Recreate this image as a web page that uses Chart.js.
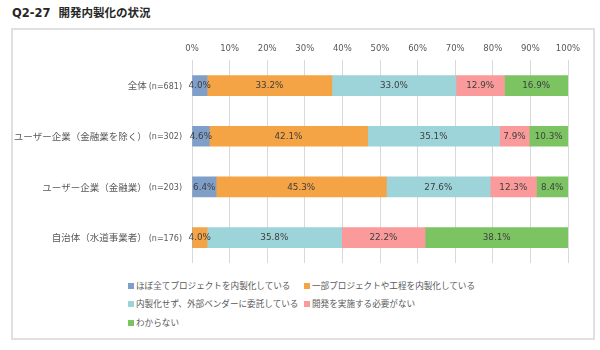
<!DOCTYPE html>
<html>
<head>
<meta charset="utf-8">
<script src="https://cdn.jsdelivr.net/npm/chart.js@4"></script>
<style>
    body { margin: 0; background: #fff; font-family: "DejaVu Sans", "Noto Sans CJK JP", sans-serif; }
    #page { position: relative; width: 600px; height: 350px; overflow: hidden; }
    #title { position: absolute; left: 12px; top: 4px; font-size: 11.5px; font-weight: bold; color: #262626; }
    #frame { position: absolute; left: 11px; top: 28px; width: 580px; height: 308px; border: 2px solid #e0e0e0; }
    #chart-wrap { position: absolute; left: 0; top: 0; width: 600px; height: 270px; }
    #legend { position: absolute; left: 0; top: 0; font-size: 8.6px; color: #595959; font-family: "Noto Sans CJK JP", sans-serif; }
    .lg-item { position: absolute; white-space: nowrap; line-height: 14px; }
    .lg-box { display: inline-block; width: 6px; height: 6px; margin-right: 2px; vertical-align: 0px; }
</style>
</head>
<body>
<div id="page">
    <div id="title">Q2-27&nbsp; 開発内製化の状況</div>
    <div id="frame"></div>
    <div id="chart-wrap"><canvas id="c"></canvas></div>
    <div id="legend"></div>
</div>
<script>
    const categories = ['全体', 'ユーザー企業（金融業を除く）', 'ユーザー企業（金融業）', '自治体（水道事業者）'];
    const sampleSizes = ['(n=681)', '(n=302)', '(n=203)', '(n=176)'];
    const seriesNames = [
        'ほぼ全てプロジェクトを内製化している',
        '一部プロジェクトや工程を内製化している',
        '内製化せず、外部ベンダーに委託している',
        '開発を実施する必要がない',
        'わからない'
    ];
    const allInHouse = [4.0, 4.6, 6.4, 0];
    const partInHouse = [33.2, 42.1, 45.3, 4.0];
    const outsourced = [33.0, 35.1, 27.6, 35.8];
    const noNeed = [12.9, 7.9, 12.3, 22.2];
    const unknown = [16.9, 10.3, 8.4, 38.1];
    const xTicks = [0, 10, 20, 30, 40, 50, 60, 70, 80, 90, 100];

    const colors = ['#7f9fc9', '#f4a345', '#9dd4d9', '#fa9a9b', '#7cc462'];
    const seriesData = [allInHouse, partInHouse, outsourced, noNeed, unknown];
    const numFont = '"DejaVu Sans", "Noto Sans CJK JP", sans-serif';

    // segment values in the middle of each bar piece
    const barLabels = {
        id: 'barLabels',
        afterDatasetsDraw(chart) {
            const ctx = chart.ctx;
            ctx.save();
            ctx.font = '8.8px ' + numFont;
            ctx.fillStyle = '#404040';
            ctx.textAlign = 'center';
            ctx.textBaseline = 'middle';
            chart.data.datasets.forEach((ds, di) => {
                chart.getDatasetMeta(di).data.forEach((bar, i) => {
                    const v = ds.data[i];
                    if (!v) return;
                    ctx.fillText(v.toFixed(1) + '%', (bar.x + bar.base) / 2, bar.y + 0.5);
                });
            });
            ctx.restore();
        }
    };

    // category names with the smaller (n=...) part
    const categoryLabels = {
        id: 'categoryLabels',
        afterDraw(chart) {
            const ctx = chart.ctx;
            const y = chart.scales.y;
            const right = chart.chartArea.left - 10;
            ctx.save();
            ctx.fillStyle = '#595959';
            ctx.textAlign = 'right';
            ctx.textBaseline = 'middle';
            categories.forEach((name, i) => {
                const py = y.getPixelForValue(i);
                ctx.font = '8px ' + numFont;
                ctx.fillText(sampleSizes[i], right, py + 1);
                const w = ctx.measureText(sampleSizes[i]).width;
                ctx.font = '9.5px "Noto Sans CJK JP", sans-serif';
                ctx.fillText(name, right - w - 2, py);
            });
            ctx.restore();
        }
    };

    new Chart(document.getElementById('c'), {
        type: 'bar',
        data: {
            labels: categories,
            datasets: seriesNames.map((name, i) => ({
                label: name,
                data: seriesData[i],
                backgroundColor: colors[i],
                barThickness: 20
            }))
        },
        options: {
            indexAxis: 'y',
            responsive: true,
            maintainAspectRatio: false,
            animation: false,
            layout: { padding: { left: 192, right: 32, top: 38, bottom: 7 } },
            plugins: { legend: { display: false }, tooltip: { enabled: false } },
            scales: {
                x: {
                    position: 'top',
                    stacked: true,
                    min: 0,
                    max: 100,
                    afterBuildTicks: (s) => { s.ticks = xTicks.map(v => ({ value: v })); },
                    grid: { color: '#d9d9d9', drawTicks: false },
                    border: { display: false },
                    ticks: { color: '#595959', font: { size: 8.5, family: numFont }, padding: 6, callback: v => v + '%' }
                },
                y: {
                    stacked: true,
                    display: false
                }
            }
        },
        plugins: [barLabels, categoryLabels]
    });

    const legendPos = [[128, 278], [304, 278], [128, 296], [304, 296], [128, 315]];
    const legend = document.getElementById('legend');
    seriesNames.forEach((name, i) => {
        const el = document.createElement('div');
        el.className = 'lg-item';
        el.style.left = legendPos[i][0] + 'px';
        el.style.top = legendPos[i][1] + 'px';
        el.innerHTML = '<span class="lg-box" style="background:' + colors[i] + '"></span>' + name;
        legend.appendChild(el);
    });
</script>
</body>
</html>
